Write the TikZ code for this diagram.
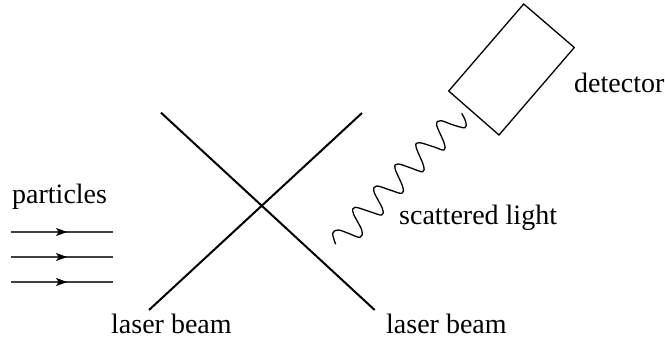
\documentclass[tikz,border=0pt]{standalone}
\usepackage{fontspec}
\setmainfont{Liberation Serif}
\usetikzlibrary{decorations.markings,arrows.meta}
\tikzset{
  lbl/.style={inner sep=0pt,font=\fontsize{28}{30}\selectfont},
  beam/.style={line width=2pt},
  thin line/.style={line width=1.3pt},
  flow/.style={line width=1.2pt,draw=black!75,postaction={decorate},decoration={markings,mark=at position 0.55 with {\arrow[black]{Stealth[length=11pt,width=8pt,inset=2.5pt]}}}}
}
\begin{document}
\begin{tikzpicture}[x=1pt,y=-1pt]
\useasboundingbox (0,0) rectangle (665,341);
\coordinate (a1) at (161,112.7); \coordinate (a2) at (374.7,310);
\coordinate (b1) at (362,113); \coordinate (b2) at (149,310);
\draw[beam] (a1) -- (a2);
\draw[beam] (b1) -- (b2);
\coordinate (d1) at (523.7,4); \coordinate (d2) at (574.3,47.5);
\coordinate (d3) at (499,135); \coordinate (d4) at (448.7,91);
\draw[thin line,line join=miter] (d1) -- (d2) -- (d3) -- (d4) -- cycle;
\draw[thin line] plot[smooth,tension=0.6] coordinates {
(335.7,244.3)(332.7,233.3)(338.3,230)(348.3,233.3)(360,237.3)(361.7,230)(353.3,213.3)(355,207.3)(370,211.7)(381.7,215)(382.3,208.3)(374,191.7)(376.7,186)(390,190)(401.7,193.3)(402.7,186.7)(395,168.3)(398.3,164)(411.7,168.3)(422.7,171.7)(423.3,165)(416,146.7)(419.3,142.7)(433.3,146.7)(444,150)(444,142.7)(436.7,125)(440.7,120.7)(453.3,125)(465,127.7)(465.7,121.7)(461.7,113.3)};
\foreach \n/\y in {1/232,2/257,3/282}{
  \coordinate (p\n s) at (11,\y); \coordinate (p\n e) at (113,\y);
  \draw[flow] (p\n s) -- (p\n e);
}
\node[lbl,anchor=base west] (particles) at (12,203) {particles};
\node[lbl,anchor=base west] (scat) at (399,224.5) {scattered light};
\node[lbl,anchor=base west] (det) at (574,92) {detector};
\node[lbl,anchor=base west] (l1) at (111,333) {laser beam};
\node[lbl,anchor=base west] (l2) at (386,333) {laser beam};
\end{tikzpicture}
\end{document}
